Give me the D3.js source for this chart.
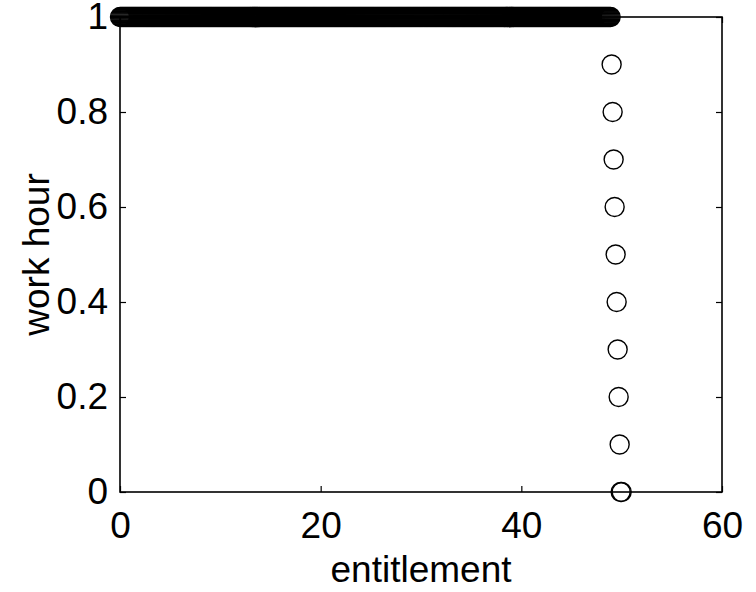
<!DOCTYPE html>
<html>
<head>
<meta charset="utf-8">
<script src="https://cdn.jsdelivr.net/npm/d3@7"></script>
<style>
  html, body { margin: 0; padding: 0; background: #fff; }
  svg { display: block; }
  text { font-family: "Liberation Sans", Arial, Helvetica, sans-serif; fill: #000; }
</style>
</head>
<body>
<svg id="chart" width="756" height="592"></svg>
<script>
// Entitlement grid (x) and the chosen work hour at each grid point (y)
const entitlement = [
  0.0,0.1,0.2,0.3,0.4,0.5,0.6,0.7,0.8,0.9,
  1.0,1.1,1.2,1.3,1.4,1.5,1.6,1.7,1.8,1.9,
  2.0,2.1,2.2,2.3,2.4,2.5,2.6,2.7,2.8,2.9,
  3.0,3.1,3.2,3.3,3.4,3.5,3.6,3.7,3.8,3.9,
  4.0,4.1,4.2,4.3,4.4,4.5,4.6,4.7,4.8,4.9,
  5.0,5.1,5.2,5.3,5.4,5.5,5.6,5.7,5.8,5.9,
  6.0,6.1,6.2,6.3,6.4,6.5,6.6,6.7,6.8,6.9,
  7.0,7.1,7.2,7.3,7.4,7.5,7.6,7.7,7.8,7.9,
  8.0,8.1,8.2,8.3,8.4,8.5,8.6,8.7,8.8,8.9,
  9.0,9.1,9.2,9.3,9.4,9.5,9.6,9.7,9.8,9.9,
  10.0,10.1,10.2,10.3,10.4,10.5,10.6,10.7,10.8,10.9,
  11.0,11.1,11.2,11.3,11.4,11.5,11.6,11.7,11.8,11.9,
  12.0,12.1,12.2,12.3,12.4,12.5,12.6,12.7,12.8,12.9,
  13.0,13.1,13.2,13.3,13.4,13.5,13.6,13.7,13.8,13.9,
  14.0,14.1,14.2,14.3,14.4,14.5,14.6,14.7,14.8,14.9,
  15.0,15.1,15.2,15.3,15.4,15.5,15.6,15.7,15.8,15.9,
  16.0,16.1,16.2,16.3,16.4,16.5,16.6,16.7,16.8,16.9,
  17.0,17.1,17.2,17.3,17.4,17.5,17.6,17.7,17.8,17.9,
  18.0,18.1,18.2,18.3,18.4,18.5,18.6,18.7,18.8,18.9,
  19.0,19.1,19.2,19.3,19.4,19.5,19.6,19.7,19.8,19.9,
  20.0,20.1,20.2,20.3,20.4,20.5,20.6,20.7,20.8,20.9,
  21.0,21.1,21.2,21.3,21.4,21.5,21.6,21.7,21.8,21.9,
  22.0,22.1,22.2,22.3,22.4,22.5,22.6,22.7,22.8,22.9,
  23.0,23.1,23.2,23.3,23.4,23.5,23.6,23.7,23.8,23.9,
  24.0,24.1,24.2,24.3,24.4,24.5,24.6,24.7,24.8,24.9,
  25.0,25.1,25.2,25.3,25.4,25.5,25.6,25.7,25.8,25.9,
  26.0,26.1,26.2,26.3,26.4,26.5,26.6,26.7,26.8,26.9,
  27.0,27.1,27.2,27.3,27.4,27.5,27.6,27.7,27.8,27.9,
  28.0,28.1,28.2,28.3,28.4,28.5,28.6,28.7,28.8,28.9,
  29.0,29.1,29.2,29.3,29.4,29.5,29.6,29.7,29.8,29.9,
  30.0,30.1,30.2,30.3,30.4,30.5,30.6,30.7,30.8,30.9,
  31.0,31.1,31.2,31.3,31.4,31.5,31.6,31.7,31.8,31.9,
  32.0,32.1,32.2,32.3,32.4,32.5,32.6,32.7,32.8,32.9,
  33.0,33.1,33.2,33.3,33.4,33.5,33.6,33.7,33.8,33.9,
  34.0,34.1,34.2,34.3,34.4,34.5,34.6,34.7,34.8,34.9,
  35.0,35.1,35.2,35.3,35.4,35.5,35.6,35.7,35.8,35.9,
  36.0,36.1,36.2,36.3,36.4,36.5,36.6,36.7,36.8,36.9,
  37.0,37.1,37.2,37.3,37.4,37.5,37.6,37.7,37.8,37.9,
  38.0,38.1,38.2,38.3,38.4,38.5,38.6,38.7,38.8,38.9,
  39.0,39.1,39.2,39.3,39.4,39.5,39.6,39.7,39.8,39.9,
  40.0,40.1,40.2,40.3,40.4,40.5,40.6,40.7,40.8,40.9,
  41.0,41.1,41.2,41.3,41.4,41.5,41.6,41.7,41.8,41.9,
  42.0,42.1,42.2,42.3,42.4,42.5,42.6,42.7,42.8,42.9,
  43.0,43.1,43.2,43.3,43.4,43.5,43.6,43.7,43.8,43.9,
  44.0,44.1,44.2,44.3,44.4,44.5,44.6,44.7,44.8,44.9,
  45.0,45.1,45.2,45.3,45.4,45.5,45.6,45.7,45.8,45.9,
  46.0,46.1,46.2,46.3,46.4,46.5,46.6,46.7,46.8,46.9,
  47.0,47.1,47.2,47.3,47.4,47.5,47.6,47.7,47.8,47.9,
  48.0,48.1,48.2,48.3,48.4,48.5,48.6,48.7,48.8,48.9,
  49.0,49.1,49.2,49.3,49.4,49.5,49.6,49.7,49.8,49.9,
  50.0
];

const workHour = [
  1,1,1,1,1,1,1,1,1,1, 1,1,1,1,1,1,1,1,1,1,
  1,1,1,1,1,1,1,1,1,1, 1,1,1,1,1,1,1,1,1,1,
  1,1,1,1,1,1,1,1,1,1, 1,1,1,1,1,1,1,1,1,1,
  1,1,1,1,1,1,1,1,1,1, 1,1,1,1,1,1,1,1,1,1,
  1,1,1,1,1,1,1,1,1,1, 1,1,1,1,1,1,1,1,1,1,
  1,1,1,1,1,1,1,1,1,1, 1,1,1,1,1,1,1,1,1,1,
  1,1,1,1,1,1,1,1,1,1, 1,1,1,1,1,1,1,1,1,1,
  1,1,1,1,1,1,1,1,1,1, 1,1,1,1,1,1,1,1,1,1,
  1,1,1,1,1,1,1,1,1,1, 1,1,1,1,1,1,1,1,1,1,
  1,1,1,1,1,1,1,1,1,1, 1,1,1,1,1,1,1,1,1,1,
  1,1,1,1,1,1,1,1,1,1, 1,1,1,1,1,1,1,1,1,1,
  1,1,1,1,1,1,1,1,1,1, 1,1,1,1,1,1,1,1,1,1,
  1,1,1,1,1,1,1,1,1,1, 1,1,1,1,1,1,1,1,1,1,
  1,1,1,1,1,1,1,1,1,1, 1,1,1,1,1,1,1,1,1,1,
  1,1,1,1,1,1,1,1,1,1, 1,1,1,1,1,1,1,1,1,1,
  1,1,1,1,1,1,1,1,1,1, 1,1,1,1,1,1,1,1,1,1,
  1,1,1,1,1,1,1,1,1,1, 1,1,1,1,1,1,1,1,1,1,
  1,1,1,1,1,1,1,1,1,1, 1,1,1,1,1,1,1,1,1,1,
  1,1,1,1,1,1,1,1,1,1, 1,1,1,1,1,1,1,1,1,1,
  1,1,1,1,1,1,1,1,1,1, 1,1,1,1,1,1,1,1,1,1,
  1,1,1,1,1,1,1,1,1,1, 1,1,1,1,1,1,1,1,1,1,
  1,1,1,1,1,1,1,1,1,1, 1,1,1,1,1,1,1,1,1,1,
  1,1,1,1,1,1,1,1,1,1, 1,1,1,1,1,1,1,1,1,1,
  1,1,1,1,1,1,1,1,1,1, 1,1,1,1,1,1,1,1,1,1,
  1,1,1,1,1,1,1,1,1,1,
  0.9,0.8,0.7,0.6,0.5,0.4,0.3,0.2,0.1,0,
  0
];

const xTicks = [0, 20, 40, 60];
const yTicks = [0, 0.2, 0.4, 0.6, 0.8, 1];
const xTickLabels = ["0", "20", "40", "60"];
const yTickLabels = ["0", "0.2", "0.4", "0.6", "0.8", "1"];
const xTitle = "entitlement";
const yTitle = "work hour";

const margin = { left: 120, right: 34, top: 17, bottom: 100 };
const width = 756, height = 592;
const svg = d3.select("#chart");

const x = d3.scaleLinear().domain([0, 60]).range([margin.left, width - margin.right]);
const y = d3.scaleLinear().domain([0, 1]).range([height - margin.bottom, margin.top]);

const tickLen = 6;
const fontSize = 37;

// Frame
svg.append("rect")
  .attr("x", x(0)).attr("y", y(1))
  .attr("width", x(60) - x(0)).attr("height", y(0) - y(1))
  .attr("fill", "none").attr("stroke", "#000").attr("stroke-width", 1.6);

// Axes with inward ticks on all four sides
const axisStyle = g => {
  g.select(".domain").remove();
  g.selectAll(".tick line").attr("stroke", "#000").attr("stroke-width", 1.2);
  g.selectAll(".tick text").attr("font-size", fontSize)
    .attr("font-family", "'Liberation Sans', Arial, sans-serif").attr("fill", "#000");
};

svg.append("g").attr("transform", `translate(0,${y(0)})`)
  .call(d3.axisBottom(x).tickValues(xTicks).tickSizeInner(-tickLen).tickSizeOuter(0)
    .tickPadding(20).tickFormat((d, i) => xTickLabels[i]))
  .call(axisStyle);

svg.append("g").attr("transform", `translate(0,${y(1)})`)
  .call(d3.axisTop(x).tickValues(xTicks).tickSizeInner(-tickLen).tickSizeOuter(0).tickFormat(""))
  .call(axisStyle);

svg.append("g").attr("transform", `translate(${x(0)},0)`)
  .call(d3.axisLeft(y).tickValues(yTicks).tickSizeInner(-tickLen).tickSizeOuter(0)
    .tickPadding(12).tickFormat((d, i) => yTickLabels[i]))
  .call(axisStyle);

svg.append("g").attr("transform", `translate(${x(60)},0)`)
  .call(d3.axisRight(y).tickValues(yTicks).tickSizeInner(-tickLen).tickSizeOuter(0).tickFormat(""))
  .call(axisStyle);

// Axis titles
svg.append("text")
  .attr("x", (x(0) + x(60)) / 2).attr("y", 582)
  .attr("text-anchor", "middle").attr("font-size", fontSize)
  .text(xTitle);

svg.append("text")
  .attr("transform", `translate(49,${(y(0) + y(1)) / 2}) rotate(-90)`)
  .attr("text-anchor", "middle").attr("font-size", fontSize)
  .text(yTitle);

// Open circle markers
const points = entitlement.map((e, i) => ({ e, h: workHour[i] }));
svg.append("g")
  .selectAll("circle")
  .data(points)
  .join("circle")
  .attr("cx", d => x(d.e))
  .attr("cy", d => y(d.h))
  .attr("r", 9.5)
  .attr("fill", "none")
  .attr("stroke", "#000")
  .attr("stroke-width", 1.4);
</script>
</body>
</html>
